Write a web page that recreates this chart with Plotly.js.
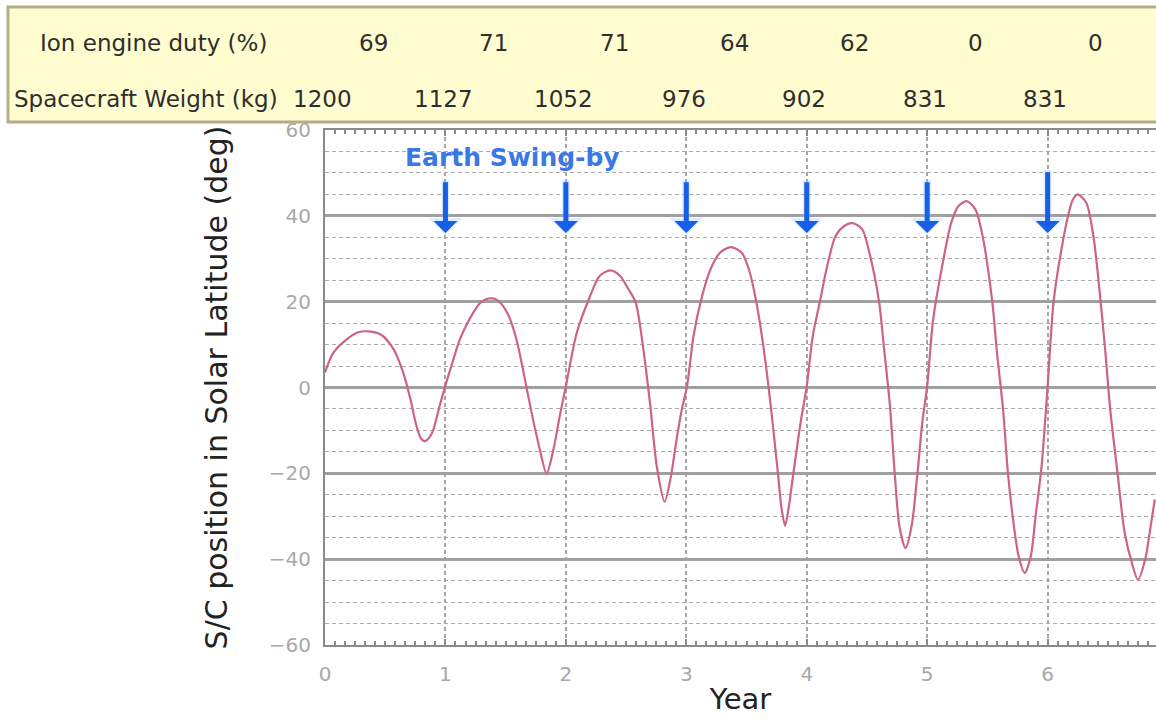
<!DOCTYPE html>
<html>
<head>
<meta charset="utf-8">
<script src="https://cdn.plot.ly/plotly-3.0.1.min.js"></script>
<style>
  html, body { margin: 0; padding: 0; background: #ffffff; }
  #chart { width: 1156px; height: 721px; }
</style>
</head>
<body>
<div id="chart"></div>
<script>
// ---- data ----
const years = [
  0.00, 0.07, 0.18, 0.27, 0.35, 0.46, 0.57, 0.65, 0.71, 0.76, 0.80, 0.83, 0.87, 0.90, 0.95, 1.00, 1.06,
  1.12, 1.23, 1.30, 1.37, 1.44, 1.52, 1.59, 1.66, 1.72, 1.78, 1.84, 1.90, 1.95, 2.00,
  2.09, 2.19, 2.28, 2.37, 2.45, 2.52, 2.58, 2.64, 2.70, 2.755, 2.82, 2.87, 2.92, 2.96, 3.006,
  3.06, 3.12, 3.20, 3.28, 3.37, 3.46, 3.52, 3.58, 3.64, 3.70, 3.76, 3.79, 3.82, 3.85, 3.89, 3.95, 4.00,
  4.05, 4.11, 4.17, 4.24, 4.32, 4.38, 4.46, 4.52, 4.60, 4.64, 4.69, 4.73, 4.77, 4.82, 4.87, 4.92, 4.96, 5.00,
  5.05, 5.13, 5.20, 5.26, 5.33, 5.40, 5.46, 5.54, 5.58, 5.63, 5.67, 5.71, 5.76, 5.81, 5.86, 5.90, 5.95, 6.00,
  6.05, 6.11, 6.17, 6.21, 6.25, 6.32, 6.38, 6.44, 6.48, 6.52, 6.58, 6.64, 6.70, 6.75, 6.81, 6.855, 6.89
];
const latitude = [
  3.5, 8.1, 11.2, 12.8, 13.1, 12.4, 8.9, 3.4, -2.8, -9.0, -12.0, -12.5, -11.5, -9.8, -4.5, 0.5, 6.0,
  11.2, 17.4, 20.0, 20.8, 20.2, 17.0, 11.2, 1.9, -6.5, -14.0, -20.0, -14.0, -6.5, 0.3,
  12.7, 20.5, 26.0, 27.3, 26.0, 22.9, 19.8, 9.6, -4.0, -18.4, -26.6, -21.0, -12.0, -5.5, 0.3,
  12.0, 20.1, 27.5, 31.4, 32.7, 31.4, 27.5, 20.1, 9.6, -4.0, -19.8, -28.0, -32.2, -28.0, -19.8, -8.0, 0.3,
  12.0, 20.1, 28.3, 35.3, 37.8, 38.3, 36.9, 31.4, 20.1, 9.6, -4.0, -19.8, -32.4, -37.4, -32.4, -19.8, -8.0, 0.3,
  15.9, 29.1, 38.4, 42.3, 43.4, 41.5, 35.3, 20.1, 8.1, -5.1, -19.8, -30.0, -39.4, -43.2, -39.4, -30.0, -18.4, 0.3,
  20.1, 31.4, 40.0, 43.8, 45.0, 43.1, 35.3, 20.1, 8.1, -5.1, -19.8, -33.9, -40.9, -44.8, -40.1, -32.4, -26.1
];
const swingbyYears = [1, 2, 3, 4, 5, 6];
const dutyLabel = "Ion engine duty (%)";
const dutyValues = [69, 71, 71, 64, 62, 0, 0];
const weightLabel = "Spacecraft Weight (kg)";
const weightValues = [1200, 1127, 1052, 976, 902, 831, 831];
const swingbyText = "Earth Swing-by";
const xTitle = "Year";
const yTitle = "S/C position in Solar Latitude (deg)";

// ---- chart ----
const FONT = "DejaVu Sans, Verdana, sans-serif";
const XMAX = 6.9;

const trace = {
  x: years,
  y: latitude,
  type: "scatter",
  mode: "lines",
  line: { color: "#cc6482", width: 2.2, shape: "spline", smoothing: 0.8 },
  hoverinfo: "x+y",
  showlegend: false
};

const annotations = [];
const tableFont = { family: FONT, size: 23, color: "#2e2e2e" };

// table rows
annotations.push({
  xref: "paper", yref: "paper", x: -0.345, y: 1.169, xanchor: "left", yanchor: "middle",
  text: dutyLabel, showarrow: false, font: tableFont
});
annotations.push({
  xref: "paper", yref: "paper", x: -0.377, y: 1.060, xanchor: "left", yanchor: "middle",
  text: weightLabel, showarrow: false, font: tableFont
});
dutyValues.forEach((v, i) => {
  annotations.push({
    xref: "paper", yref: "paper", x: (i + 0.4) / XMAX, y: 1.169, xanchor: "center", yanchor: "middle",
    text: String(v), showarrow: false, font: tableFont
  });
});
weightValues.forEach((v, i) => {
  annotations.push({
    xref: "paper", yref: "paper", x: (i - 0.02) / XMAX, y: 1.060, xanchor: "center", yanchor: "middle",
    text: String(v), showarrow: false, font: tableFont
  });
});

// swing-by arrows (glow + arrow)
swingbyYears.forEach((yr, i) => {
  const top = (i === swingbyYears.length - 1) ? 50.5 : 48.2;
  annotations.push({
    xref: "x", yref: "y", axref: "x", ayref: "y",
    x: yr, y: 35.6, ax: yr, ay: top + 0.5, text: "", showarrow: true,
    arrowhead: 1, arrowsize: 0.7, arrowwidth: 8, arrowcolor: "rgba(150,190,255,0.3)"
  });
  annotations.push({
    xref: "x", yref: "y", axref: "x", ayref: "y",
    x: yr, y: 36.0, ax: yr, ay: top, text: "", showarrow: true,
    arrowhead: 1, arrowsize: 0.8, arrowwidth: 5, arrowcolor: "#1560e6"
  });
});
annotations.push({
  xref: "x", yref: "y", x: 1.555, y: 53.6, xanchor: "center", yanchor: "middle",
  text: swingbyText, showarrow: false,
  font: { family: FONT, size: 25, color: "#3a78e6", weight: "bold" }
});

const layout = {
  width: 1156,
  height: 721,
  margin: { l: 325, r: 0, t: 130, b: 76, pad: 0 },
  paper_bgcolor: "#ffffff",
  plot_bgcolor: "#ffffff",
  showlegend: false,
  xaxis: {
    range: [0, XMAX],
    tick0: 0, dtick: 1,
    showgrid: true, gridcolor: "#a6a6a6", gridwidth: 1.5, griddash: "4px,3px",
    zeroline: false,
    showline: true, linecolor: "#8a8a8a", linewidth: 2, mirror: "ticks",
    ticks: "inside", ticklen: 6, tickcolor: "#8a8a8a", tickwidth: 1.5,
    minor: { dtick: 1 / 12, ticks: "inside", ticklen: 4, tickcolor: "#8a8a8a", tickwidth: 1.5, showgrid: false },
    tickfont: { family: FONT, size: 20, color: "#a8a8a8" },
    ticklabelstandoff: 10,
    title: { text: xTitle, font: { family: FONT, size: 29, color: "#222222" }, standoff: 4 },
    fixedrange: true
  },
  yaxis: {
    range: [-60, 60],
    tick0: -60, dtick: 20,
    showgrid: true, gridcolor: "#a0a0a0", gridwidth: 2.5,
    zeroline: false,
    showline: true, linecolor: "#8a8a8a", linewidth: 2,
    ticks: "",
    minor: { dtick: 5, showgrid: true, gridcolor: "#ababab", gridwidth: 1.2, griddash: "4px,3px" },
    tickfont: { family: FONT, size: 20, color: "#a8a8a8" },
    ticklabelstandoff: 8,
    title: { text: yTitle, font: { family: FONT, size: 30, color: "#222222" }, standoff: 32 },
    automargin: false,
    fixedrange: true
  },
  shapes: [
    {
      type: "rect", xref: "paper", yref: "paper",
      x0: -0.3815, x1: 1.02, y0: 1.0155, y1: 1.2388,
      fillcolor: "#fffcd0", line: { color: "#b4ad88", width: 3 }, layer: "below"
    }
  ],
  annotations: annotations
};

Plotly.newPlot("chart", [trace], layout, { displayModeBar: false });
</script>
</body>
</html>
